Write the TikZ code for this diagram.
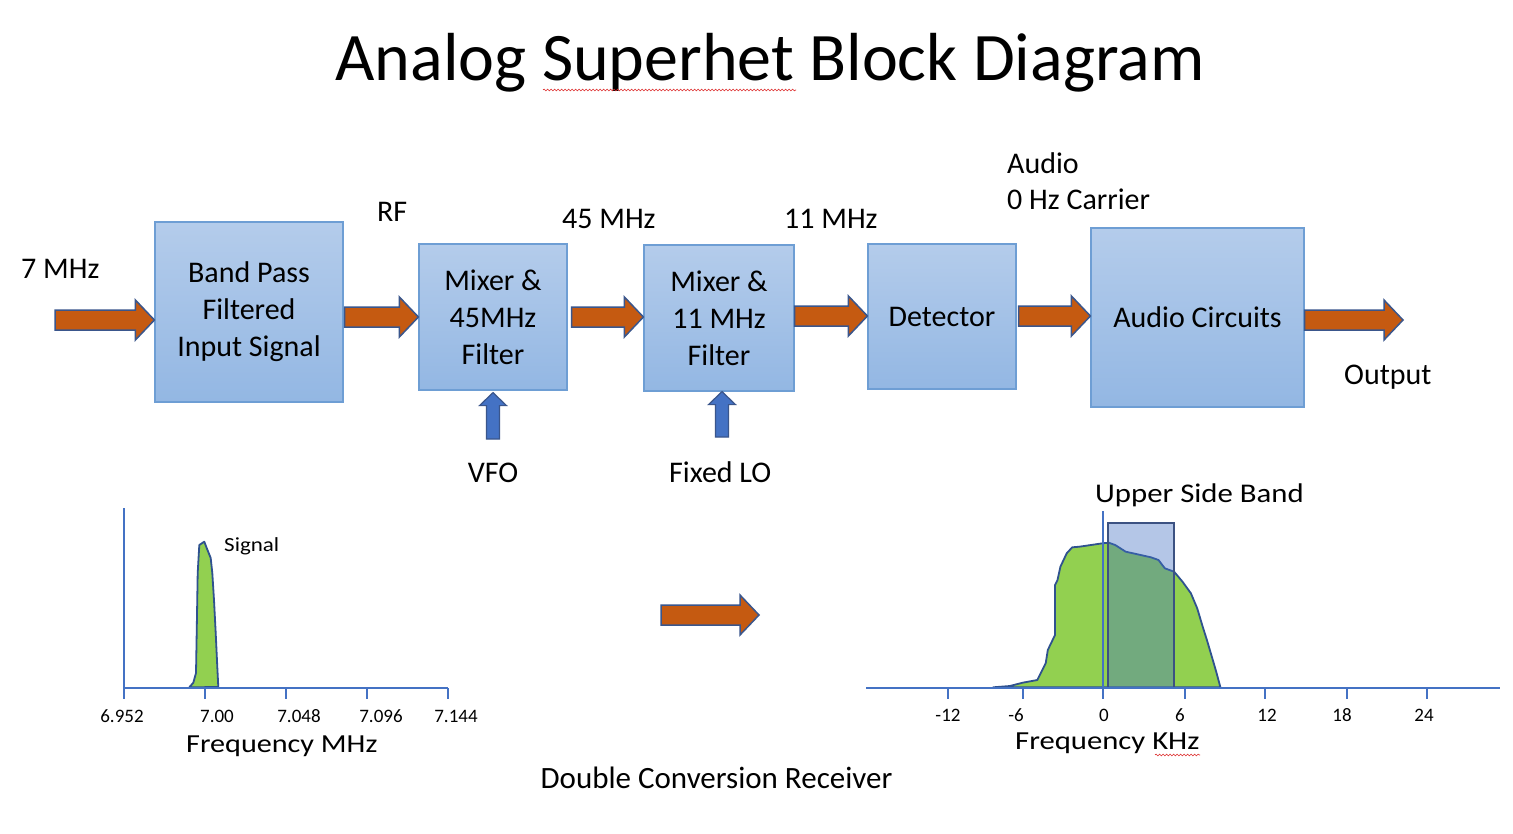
\documentclass[tikz,border=0pt]{standalone}
\usepackage{fontspec}
\usepackage{graphicx}
\setmainfont{Carlito}
\usetikzlibrary{calc,decorations.pathmorphing}
\definecolor{blkTop}{RGB}{180,204,235}
\definecolor{blkBot}{RGB}{147,183,227}
\definecolor{blkLine}{RGB}{110,158,212}
\definecolor{orFill}{RGB}{197,90,17}
\definecolor{arLine}{RGB}{58,86,140}
\definecolor{upFill}{RGB}{68,114,196}
\definecolor{axisC}{RGB}{68,114,196}
\definecolor{grFill}{RGB}{146,208,80}
\definecolor{grLine}{RGB}{47,82,143}
\definecolor{usbFill}{RGB}{68,114,196}
\definecolor{usbLine}{RGB}{60,82,130}
\definecolor{squig}{RGB}{220,40,40}

\newcommand\rightblockarrow[2]{%
  \path[orangearrow] let \p1=#1, \p2=#2 in
    (\x1,\y2+10pt) -- (\x2-19pt,\y2+10pt) -- (\x2-19pt,\y2+20pt) -- (\x2,\y2)
    -- (\x2-19pt,\y2-20pt) -- (\x2-19pt,\y2-10pt) -- (\x1,\y2-10pt) -- cycle;}
\newcommand\upblockarrow[2]{%
  \path[bluearrow] let \p1=#1, \p2=#2 in
    (\x1-6.5pt,\y1) -- (\x1-6.5pt,\y2-13pt) -- (\x1-13.5pt,\y2-13pt) -- (\x1,\y2)
    -- (\x1+13.5pt,\y2-13pt) -- (\x1+6.5pt,\y2-13pt) -- (\x1+6.5pt,\y1) -- cycle;}

\tikzset{
  block/.style={draw=blkLine, line width=1.2pt, top color=blkTop, bottom color=blkBot,
    inner sep=0pt, align=center, font=\fontsize{30}{37}\selectfont},
  lbl/.style={inner sep=0pt, anchor=base west, font=\fontsize{30}{36}\selectfont},
  ticklbl/.style={inner sep=0pt, anchor=base, font=\fontsize{19}{22}\selectfont},
  chartlbl/.style={inner sep=0pt, anchor=base west, font=\fontsize{26}{30}\selectfont},
  orangearrow/.style={fill=orFill, draw=arLine, line width=1.5pt, line join=miter},
  bluearrow/.style={fill=upFill, draw=arLine, line width=1.2pt, line join=miter},
  axisline/.style={draw=axisC, line width=1.2pt},
  spectrum/.style={fill=grFill, draw=grLine, line width=1.8pt, line join=round},
  squiggle/.style={draw=squig, line width=0.6pt, decorate, decoration={snake, amplitude=0.9pt, segment length=3.5pt}},
}

\begin{document}
\begin{tikzpicture}[x=1pt, y=-1pt]
\useasboundingbox (0,0) rectangle (1513,833);
\fill[white] (0,0) rectangle (1513,833);

% title
\node[inner sep=0pt, anchor=base, font=\fontsize{68}{80}\selectfont] (title) at (770,80) {Analog Superhet Block Diagram};
\draw[squiggle] (543,90) -- (796,90);

% blocks
\node[block, minimum width=188pt, minimum height=180pt] (bpf) at (249,312) {Band Pass\\Filtered\\Input Signal};
\node[block, minimum width=148pt, minimum height=146pt] (mix1) at (493,317) {Mixer \&\\45MHz\\Filter};
\node[block, minimum width=150pt, minimum height=146pt] (mix2) at (719,318) {Mixer \&\\11 MHz\\Filter};
\node[block, minimum width=148pt, minimum height=145pt] (det) at (942,316.5) {Detector};
\node[block, minimum width=213pt, minimum height=179pt] (aud) at (1197.5,317.5) {Audio Circuits};

% orange arrows
\coordinate (in0) at (55,320);
\coordinate (out0) at (1403,320);
\rightblockarrow{(in0)}{(bpf.west |- 0,320)}
\rightblockarrow{($(bpf.east)+(1,0)$)}{(mix1.west |- 0,317)}
\rightblockarrow{($(mix1.east)+(4,0)$)}{(mix2.west |- 0,317)}
\rightblockarrow{(mix2.east)}{(det.west |- 0,316)}
\rightblockarrow{($(det.east)+(2,0)$)}{(aud.west |- 0,316)}
\rightblockarrow{(aud.east |- 0,320)}{(out0)}

% blue LO arrows
\coordinate (vfoB) at (493,439);
\coordinate (loB) at (722,437);
\upblockarrow{(vfoB)}{($(mix1.south)+(0,2)$)}
\upblockarrow{(loB)}{(mix2.south)}

% labels
\node[lbl] (l7) at (21,278) {7 MHz};
\node[lbl] (lrf) at (377,221) {RF};
\node[lbl] (l45) at (562,228) {45 MHz};
\node[lbl] (l11) at (784,228) {11 MHz};
\node[lbl, anchor=base] (lvfo) at (493,482) {VFO};
\node[lbl] (llo) at (669,482) {Fixed LO};
\node[lbl] (laud) at (1007,173) {Audio};
\node[lbl] (lcar) at (1007,209) {0 Hz Carrier};
\node[lbl] (lout) at (1344,384) {Output};
\node[lbl, anchor=base, font=\fontsize{31}{36}\selectfont] (ldcr) at (716.5,788) {Double Conversion Receiver};

% middle arrow
\coordinate (midA) at (661,615);
\coordinate (midB) at (759,615);
\rightblockarrow{(midA)}{(midB)}

% left chart
\draw[spectrum] (189.3,687.3) -- (193.3,682.7) -- (196,673) -- (196.7,633) -- (197.7,573)
  -- (199.3,545) -- (204.3,541.7) -- (206.7,548) -- (210.7,558) -- (212.3,573) -- (214,600)
  -- (215.7,633) -- (217.3,667) -- (218.3,687) -- cycle;
\draw[axisline] (124,508) -- (124,688) -- (448,688);
\foreach \x in {124,205,286,367,448} \draw[axisline] (\x,688) -- (\x,699);
\node[ticklbl] (t1) at (122,722) {6.952};
\node[ticklbl] (t2) at (217,722) {7.00};
\node[ticklbl] (t3) at (299,722) {7.048};
\node[ticklbl] (t4) at (381,722) {7.096};
\node[ticklbl] (t5) at (456,722) {7.144};
\node[chartlbl] (fmhz) at (186,752) {\scalebox{1.16}[1]{Frequency MHz}};
\node[chartlbl, font=\fontsize{20}{24}\selectfont] (sig) at (224,551) {\scalebox{1.15}[1]{Signal}};

% right chart
\draw[spectrum] (993.1,687.3) -- (1009.9,686) -- (1022.6,682.7) -- (1037.3,680) -- (1045.7,663.3)
  -- (1047.8,650) -- (1055,635) -- (1055,585) -- (1057.5,580) -- (1060.4,566.7) -- (1066.7,553.3)
  -- (1072.2,547.3) -- (1079.4,546.7) -- (1102.5,543.3) -- (1108.8,542.7) -- (1115.2,545)
  -- (1125.7,551.7) -- (1136.2,554) -- (1150.9,557.3) -- (1158.5,560) -- (1164.8,568.3)
  -- (1174.1,571.7) -- (1182.5,581.7) -- (1190.9,593.3) -- (1197.2,608.3) -- (1202.7,626.7)
  -- (1206.9,640) -- (1212.8,660) -- (1216.2,671.7) -- (1220.4,687.3) -- cycle;
\draw[fill=usbFill, fill opacity=0.4, draw=usbLine, line width=2pt] (1107.6,523) rectangle (1174,688);
\draw[axisline] (1103,511) -- (1103,688);
\draw[axisline] (866,688) -- (1500,688);
\foreach \x in {948,1023,1103,1185,1265,1347,1427} \draw[axisline] (\x,688) -- (\x,699);
\node[ticklbl] (r1) at (948,721) {-12};
\node[ticklbl] (r2) at (1016,721) {-6};
\node[ticklbl] (r3) at (1104,721) {0};
\node[ticklbl] (r4) at (1180,721) {6};
\node[ticklbl] (r5) at (1267,721) {12};
\node[ticklbl] (r6) at (1342,721) {18};
\node[ticklbl] (r7) at (1424,721) {24};
\node[chartlbl] (fkhz) at (1015,749) {\scalebox{1.18}[1]{Frequency KHz}};
\draw[squiggle] (1155,755) -- (1200,755);
\node[chartlbl, font=\fontsize{27}{32}\selectfont] (usb) at (1095,502) {\scalebox{1.14}[1]{Upper Side Band}};
\end{tikzpicture}
\end{document}
